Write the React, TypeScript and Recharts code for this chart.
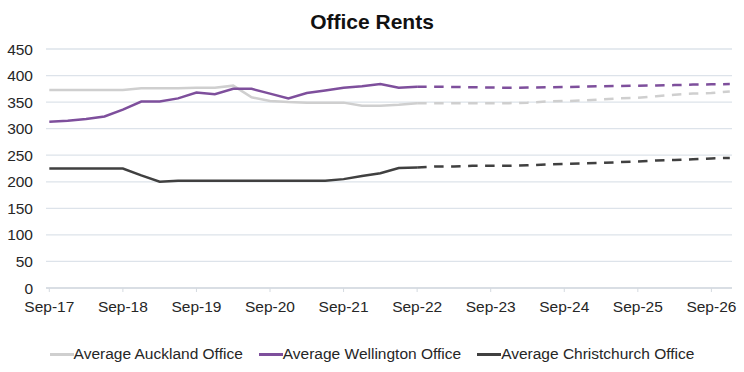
import { LineChart, Line, XAxis, YAxis, CartesianGrid } from "recharts";

// quarterly, Sep-17 .. Dec-26
const quarters = [
  "Sep-17", "Dec-17", "Mar-18", "Jun-18", "Sep-18", "Dec-18", "Mar-19", "Jun-19",
  "Sep-19", "Dec-19", "Mar-20", "Jun-20", "Sep-20", "Dec-20", "Mar-21", "Jun-21",
  "Sep-21", "Dec-21", "Mar-22", "Jun-22", "Sep-22", "Dec-22", "Mar-23", "Jun-23",
  "Sep-23", "Dec-23", "Mar-24", "Jun-24", "Sep-24", "Dec-24", "Mar-25", "Jun-25",
  "Sep-25", "Dec-25", "Mar-26", "Jun-26", "Sep-26", "Dec-26",
];
const tickLabels = ["Sep-17", "Sep-18", "Sep-19", "Sep-20", "Sep-21", "Sep-22", "Sep-23", "Sep-24", "Sep-25", "Sep-26"];
const yTicks = [0, 50, 100, 150, 200, 250, 300, 350, 400, 450];

// actuals Sep-17 .. Sep-22
const aucklandActual = [373, 373, 373, 373, 373, 376, 376, 376, 377, 377, 381, 359, 352, 350, 349, 349, 349, 343, 343, 345, 348];
const wellingtonActual = [313, 315, 318, 323, 336, 351, 351, 357, 368, 365, 375, 375, 366, 357, 367, 372, 377, 380, 384, 377, 379];
const christchurchActual = [225, 225, 225, 225, 225, 212, 200, 202, 202, 202, 202, 202, 202, 202, 202, 202, 205, 211, 216, 226, 227];

// forecasts Sep-22 .. Dec-26
const aucklandForecast = [348, 348, 348, 348, 348, 348, 349, 351, 352, 353, 355, 357, 358, 361, 364, 366, 367, 370];
const wellingtonForecast = [379, 379, 378.5, 378, 377.5, 377, 377.5, 378, 378.5, 379, 380, 380.5, 381, 381.5, 382, 383, 383.5, 384];
const christchurchForecast = [227, 229, 229, 230, 230, 230, 231, 232.5, 233.5, 234.5, 235.5, 237, 238, 240, 241, 242.5, 244, 245];

const forecastStart = quarters.indexOf("Sep-22");

const series = [
  { key: "auckland", name: "Average Auckland Office", color: "#cfcfcf", actual: aucklandActual, forecast: aucklandForecast },
  { key: "wellington", name: "Average Wellington Office", color: "#7e4f9c", actual: wellingtonActual, forecast: wellingtonForecast },
  { key: "christchurch", name: "Average Christchurch Office", color: "#404040", actual: christchurchActual, forecast: christchurchForecast },
];

const data = quarters.map((label, i) => {
  const row: Record<string, number | string | undefined> = { q: i, label };
  series.forEach((s) => {
    row[s.key] = s.actual[i];
    row[s.key + "F"] = i >= forecastStart ? s.forecast[i - forecastStart] : undefined;
  });
  return row;
});

const FONT = '"Liberation Sans", Arial, sans-serif';

export default function App() {
  return (
    <div style={{ position: "absolute", left: 0, top: 0, width: 744, height: 372, background: "#fff", fontFamily: FONT }}>
      <div style={{ position: "absolute", top: 9, left: 0, width: 744, textAlign: "center", fontSize: 21, fontWeight: "bold", lineHeight: "26px", color: "#111" }}>
        Office Rents
      </div>
      <LineChart width={744} height={372} data={data} margin={{ top: 49, right: 12, bottom: 54, left: 6 }}>
        <CartesianGrid vertical={false} stroke="#dde3ea" strokeWidth={1.3} />
        <XAxis
          dataKey="q"
          type="number"
          domain={[-0.18, 37.12]}
          ticks={tickLabels.map((l) => quarters.indexOf(l))}
          tickFormatter={(v: number) => quarters[v]}
          height={30}
          axisLine={{ stroke: "#d5dae0", strokeWidth: 1.3 }}
          tickLine={{ stroke: "#d5dae0" }}
          tickSize={4}
          tickMargin={9}
          tick={{ fill: "#262626", fontSize: 15.5, fontFamily: FONT }}
          interval={0}
        />
        <YAxis
          domain={[0, 450]}
          ticks={yTicks}
          width={40}
          axisLine={false}
          tickLine={false}
          tickMargin={7}
          tick={{ fill: "#262626", fontSize: 15.5, fontFamily: FONT }}
        />
        {series.map((s) => (
          <Line key={s.key + "F"} dataKey={s.key + "F"} stroke={s.color} strokeWidth={2.5} strokeDasharray="9.5 7.5" dot={false} isAnimationActive={false} legendType="none" />
        ))}
        {series.map((s) => (
          <Line key={s.key} dataKey={s.key} name={s.name} stroke={s.color} strokeWidth={2.5} dot={false} isAnimationActive={false} />
        ))}
      </LineChart>
      <div style={{ position: "absolute", top: 344, left: 0, width: 744, display: "flex", justifyContent: "center", fontSize: 15.5, lineHeight: "20px", color: "#262626" }}>
        {series.map((s) => (
          <div key={s.key} style={{ display: "flex", alignItems: "center", margin: "0 8px" }}>
            <span style={{ display: "inline-block", width: 24, height: 3, background: s.color }} />
            <span>{s.name}</span>
          </div>
        ))}
      </div>
    </div>
  );
}
